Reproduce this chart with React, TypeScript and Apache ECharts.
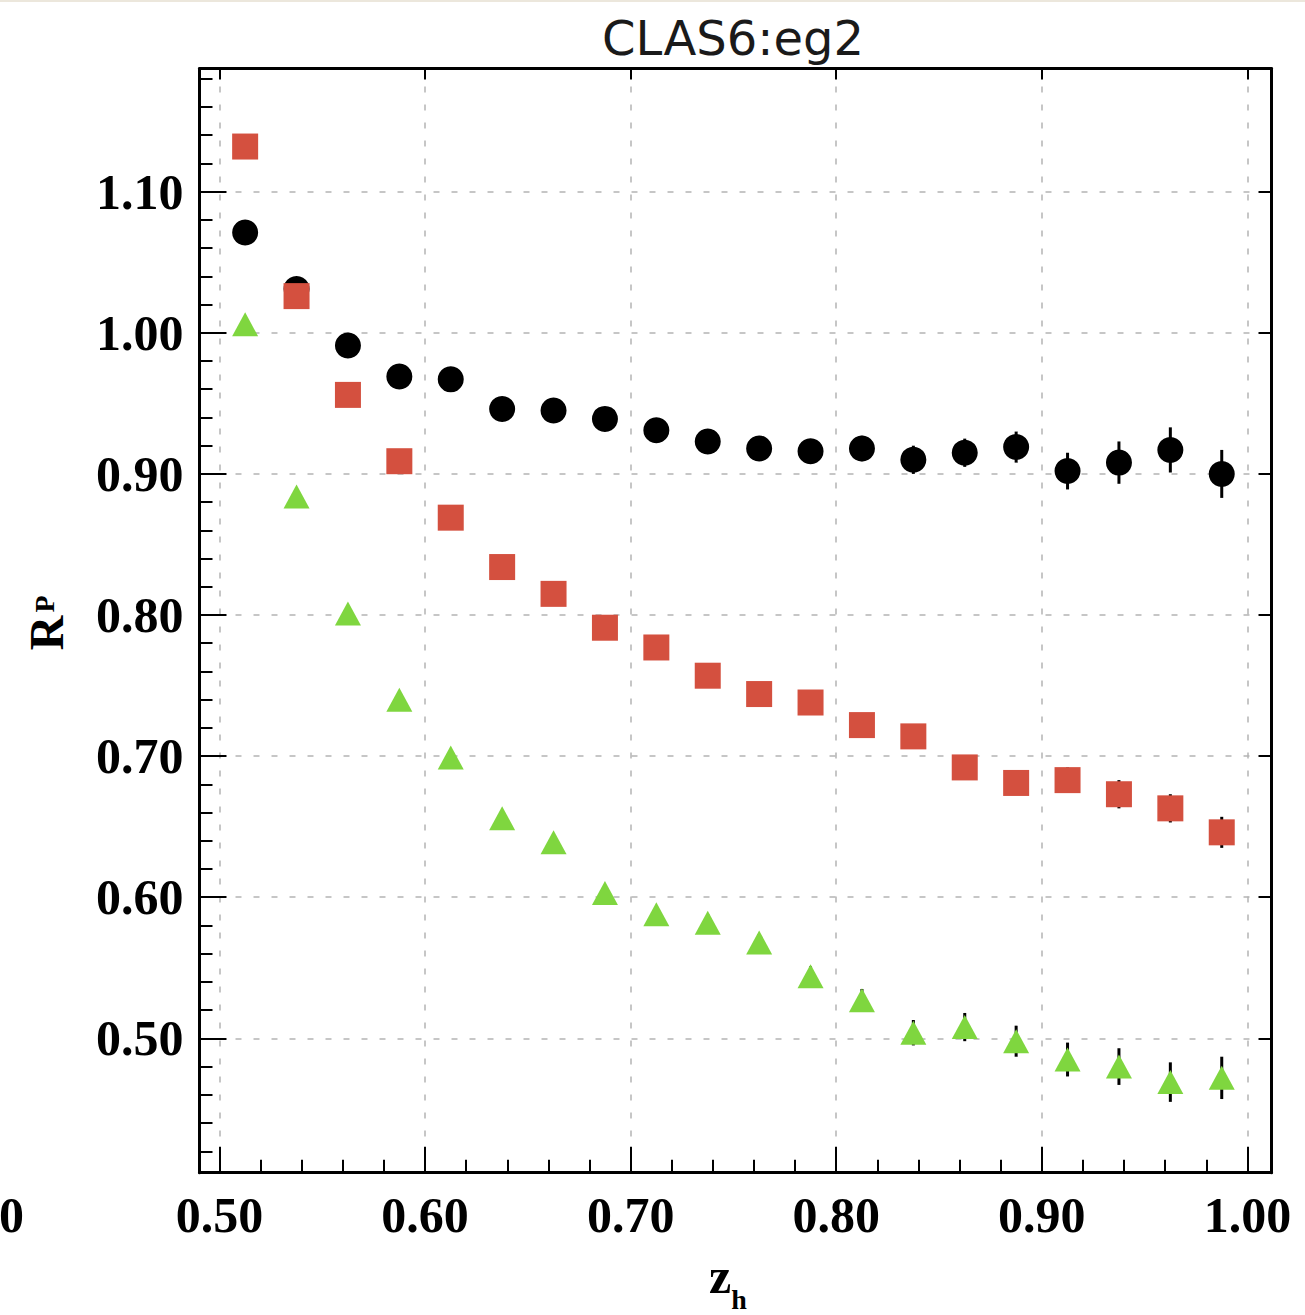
import React, { useEffect, useRef } from "react";
import * as echarts from "echarts";

// ---- data ----
const zh = [0.5125, 0.5375, 0.5625, 0.5875, 0.6125, 0.6375, 0.6625, 0.6875, 0.7125, 0.7375, 0.7625, 0.7875, 0.8125, 0.8375, 0.8625, 0.8875, 0.9125, 0.9375, 0.9625, 0.9875];
const blackR = [1.071, 1.031, 0.991, 0.969, 0.967, 0.946, 0.945, 0.939, 0.931, 0.923, 0.918, 0.916, 0.918, 0.910, 0.915, 0.919, 0.902, 0.908, 0.917, 0.900];
const blackErr = [0.004, 0.004, 0.004, 0.005, 0.005, 0.005, 0.006, 0.006, 0.006, 0.007, 0.007, 0.008, 0.009, 0.010, 0.010, 0.011, 0.013, 0.015, 0.016, 0.017];
const redR = [1.132, 1.026, 0.956, 0.909, 0.869, 0.834, 0.815, 0.791, 0.777, 0.757, 0.744, 0.738, 0.722, 0.714, 0.692, 0.681, 0.683, 0.673, 0.663, 0.646];
const redErr = [0.003, 0.003, 0.003, 0.003, 0.004, 0.004, 0.004, 0.004, 0.005, 0.005, 0.005, 0.006, 0.006, 0.007, 0.007, 0.008, 0.009, 0.010, 0.010, 0.011];
const greenR = [1.006, 0.884, 0.801, 0.740, 0.699, 0.656, 0.639, 0.603, 0.588, 0.582, 0.568, 0.544, 0.527, 0.504, 0.508, 0.498, 0.485, 0.480, 0.469, 0.472];
const greenErr = [0.003, 0.003, 0.003, 0.003, 0.004, 0.004, 0.004, 0.005, 0.005, 0.006, 0.006, 0.007, 0.008, 0.009, 0.010, 0.011, 0.012, 0.013, 0.014, 0.015];

const xMajor = [0.5, 0.6, 0.7, 0.8, 0.9, 1.0];
const xMinor = [0.52, 0.54, 0.56, 0.58, 0.62, 0.64, 0.66, 0.68, 0.72, 0.74, 0.76, 0.78, 0.82, 0.84, 0.86, 0.88, 0.92, 0.94, 0.96, 0.98];
const yMajor = [0.5, 0.6, 0.7, 0.8, 0.9, 1.0, 1.1];
const yMinor = [0.42, 0.44, 0.46, 0.48, 0.52, 0.54, 0.56, 0.58, 0.62, 0.64, 0.66, 0.68, 0.72, 0.74, 0.76, 0.78, 0.82, 0.84, 0.86, 0.88, 0.92, 0.94, 0.96, 0.98, 1.02, 1.04, 1.06, 1.08, 1.12, 1.14, 1.16, 1.18];

const X_MIN = 0.4903;
const X_MAX = 1.0117;
const Y_MIN = 0.4048;
const Y_MAX = 1.1873;

const SERIF = "'Liberation Serif', 'Times New Roman', serif";

function errSeries(vals: number[], errs: number[]) {
  return {
    type: "custom",
    xAxisIndex: 0,
    yAxisIndex: 0,
    data: zh.map((x, i) => [x, vals[i], errs[i]]),
    renderItem: (params: any, api: any) => {
      const x = api.value(0);
      const y = api.value(1);
      const e = api.value(2);
      const p1 = api.coord([x, y - e]);
      const p2 = api.coord([x, y + e]);
      return {
        type: "line",
        shape: { x1: p1[0], y1: p1[1], x2: p2[0], y2: p2[1] },
        style: { stroke: "#000", lineWidth: 3 },
      };
    },
    silent: true,
  };
}

function pointSeries(vals: number[], symbol: string, size: any, color: string) {
  return {
    type: "scatter",
    xAxisIndex: 0,
    yAxisIndex: 0,
    symbol,
    symbolSize: size,
    itemStyle: { color, opacity: 1 },
    data: zh.map((x, i) => [x, vals[i]]),
    silent: true,
  };
}

const axisLineStyle = { show: true, lineStyle: { color: "#000", width: 3 } };
const gridLine = { show: true, lineStyle: { type: [6, 12], color: "#b4b4b4", width: 1.5 } };
const labelFont = { fontSize: 50, fontWeight: "bold", fontFamily: SERIF, color: "#000" };

export default function App() {
  const ref = useRef<HTMLDivElement>(null);
  useEffect(() => {
    if (!ref.current) return;
    const chart = echarts.init(ref.current, undefined, { renderer: "svg" });
    chart.setOption({
      animation: false,
      backgroundColor: "#fff",
      grid: { left: 199.5, right: 33.5, top: 68.5, bottom: 142.3, containLabel: false, outerBoundsMode: "none" },
      xAxis: [
        {
          type: "value", position: "bottom", min: X_MIN, max: X_MAX,
          axisLine: axisLineStyle,
          axisTick: { show: true, inside: true, length: 26, customValues: xMajor, lineStyle: { color: "#000", width: 2 } },
          axisLabel: { show: true, customValues: xMajor, margin: 17, formatter: (v: number) => v.toFixed(2), ...labelFont },
          splitLine: gridLine,
        },
        {
          type: "value", position: "bottom", min: X_MIN, max: X_MAX,
          axisLine: { show: false },
          axisTick: { show: true, inside: true, length: 13, customValues: xMinor, lineStyle: { color: "#000", width: 2 } },
          axisLabel: { show: false },
          splitLine: { show: false },
        },
        {
          type: "value", position: "top", min: X_MIN, max: X_MAX,
          axisLine: axisLineStyle,
          axisTick: { show: true, inside: true, length: 11, customValues: xMajor, lineStyle: { color: "#000", width: 2 } },
          axisLabel: { show: false },
          splitLine: { show: false },
        },
      ],
      yAxis: [
        {
          type: "value", position: "left", min: Y_MIN, max: Y_MAX,
          axisLine: axisLineStyle,
          axisTick: { show: true, inside: true, length: 27, customValues: yMajor, lineStyle: { color: "#000", width: 2 } },
          axisLabel: { show: true, customValues: yMajor, margin: 16, formatter: (v: number) => v.toFixed(2), ...labelFont },
          splitLine: gridLine,
        },
        {
          type: "value", position: "left", min: Y_MIN, max: Y_MAX,
          axisLine: { show: false },
          axisTick: { show: true, inside: true, length: 13, customValues: yMinor, lineStyle: { color: "#000", width: 2 } },
          axisLabel: { show: false },
          splitLine: { show: false },
        },
        {
          type: "value", position: "right", min: Y_MIN, max: Y_MAX,
          axisLine: axisLineStyle,
          axisTick: { show: true, inside: true, length: 13, customValues: yMajor, lineStyle: { color: "#000", width: 2 } },
          axisLabel: { show: false },
          splitLine: { show: false },
        },
      ],
      series: [
        errSeries(blackR, blackErr),
        pointSeries(blackR, "circle", 26, "#000"),
        errSeries(redR, redErr),
        pointSeries(redR, "rect", 26, "#d4503f"),
        errSeries(greenR, greenErr),
        pointSeries(greenR, "triangle", [26, 24], "#7fd63f"),
      ],
      graphic: [
        { type: "rect", shape: { x: 0, y: 0, width: 1305, height: 2 }, style: { fill: "#ece7dc" }, silent: true },
        {
          type: "text", x: 733, y: 38,
          style: { text: "CLAS6:eg2", fontSize: 48, fontFamily: "'DejaVu Sans', sans-serif", fill: "#1a1a1a", align: "center", verticalAlign: "middle" },
        },
        {
          type: "text", x: -1, y: 1215,
          style: { text: "0", fontSize: 50, fontWeight: "bold", fontFamily: SERIF, fill: "#000", align: "left", verticalAlign: "middle" },
        },
        {
          type: "text", x: 720, y: 1276,
          style: { text: "z", fontSize: 50, fontWeight: "bold", fontFamily: SERIF, fill: "#000", align: "center", verticalAlign: "middle" },
        },
        {
          type: "text", x: 739, y: 1299,
          style: { text: "h", fontSize: 28, fontWeight: "bold", fontFamily: SERIF, fill: "#000", align: "center", verticalAlign: "middle" },
        },
        {
          type: "text", x: 46, y: 633, rotation: Math.PI / 2,
          style: { text: "R", fontSize: 48, fontWeight: "bold", fontFamily: SERIF, fill: "#000", align: "center", verticalAlign: "middle" },
        },
        {
          type: "text", x: 44, y: 604, rotation: Math.PI / 2,
          style: { text: "P", fontSize: 28, fontWeight: "bold", fontFamily: SERIF, fill: "#000", align: "center", verticalAlign: "middle" },
        },
      ],
    });
    return () => chart.dispose();
  }, []);
  return <div ref={ref} style={{ position: "absolute", left: 0, top: 0, width: 1305, height: 1315 }} />;
}
